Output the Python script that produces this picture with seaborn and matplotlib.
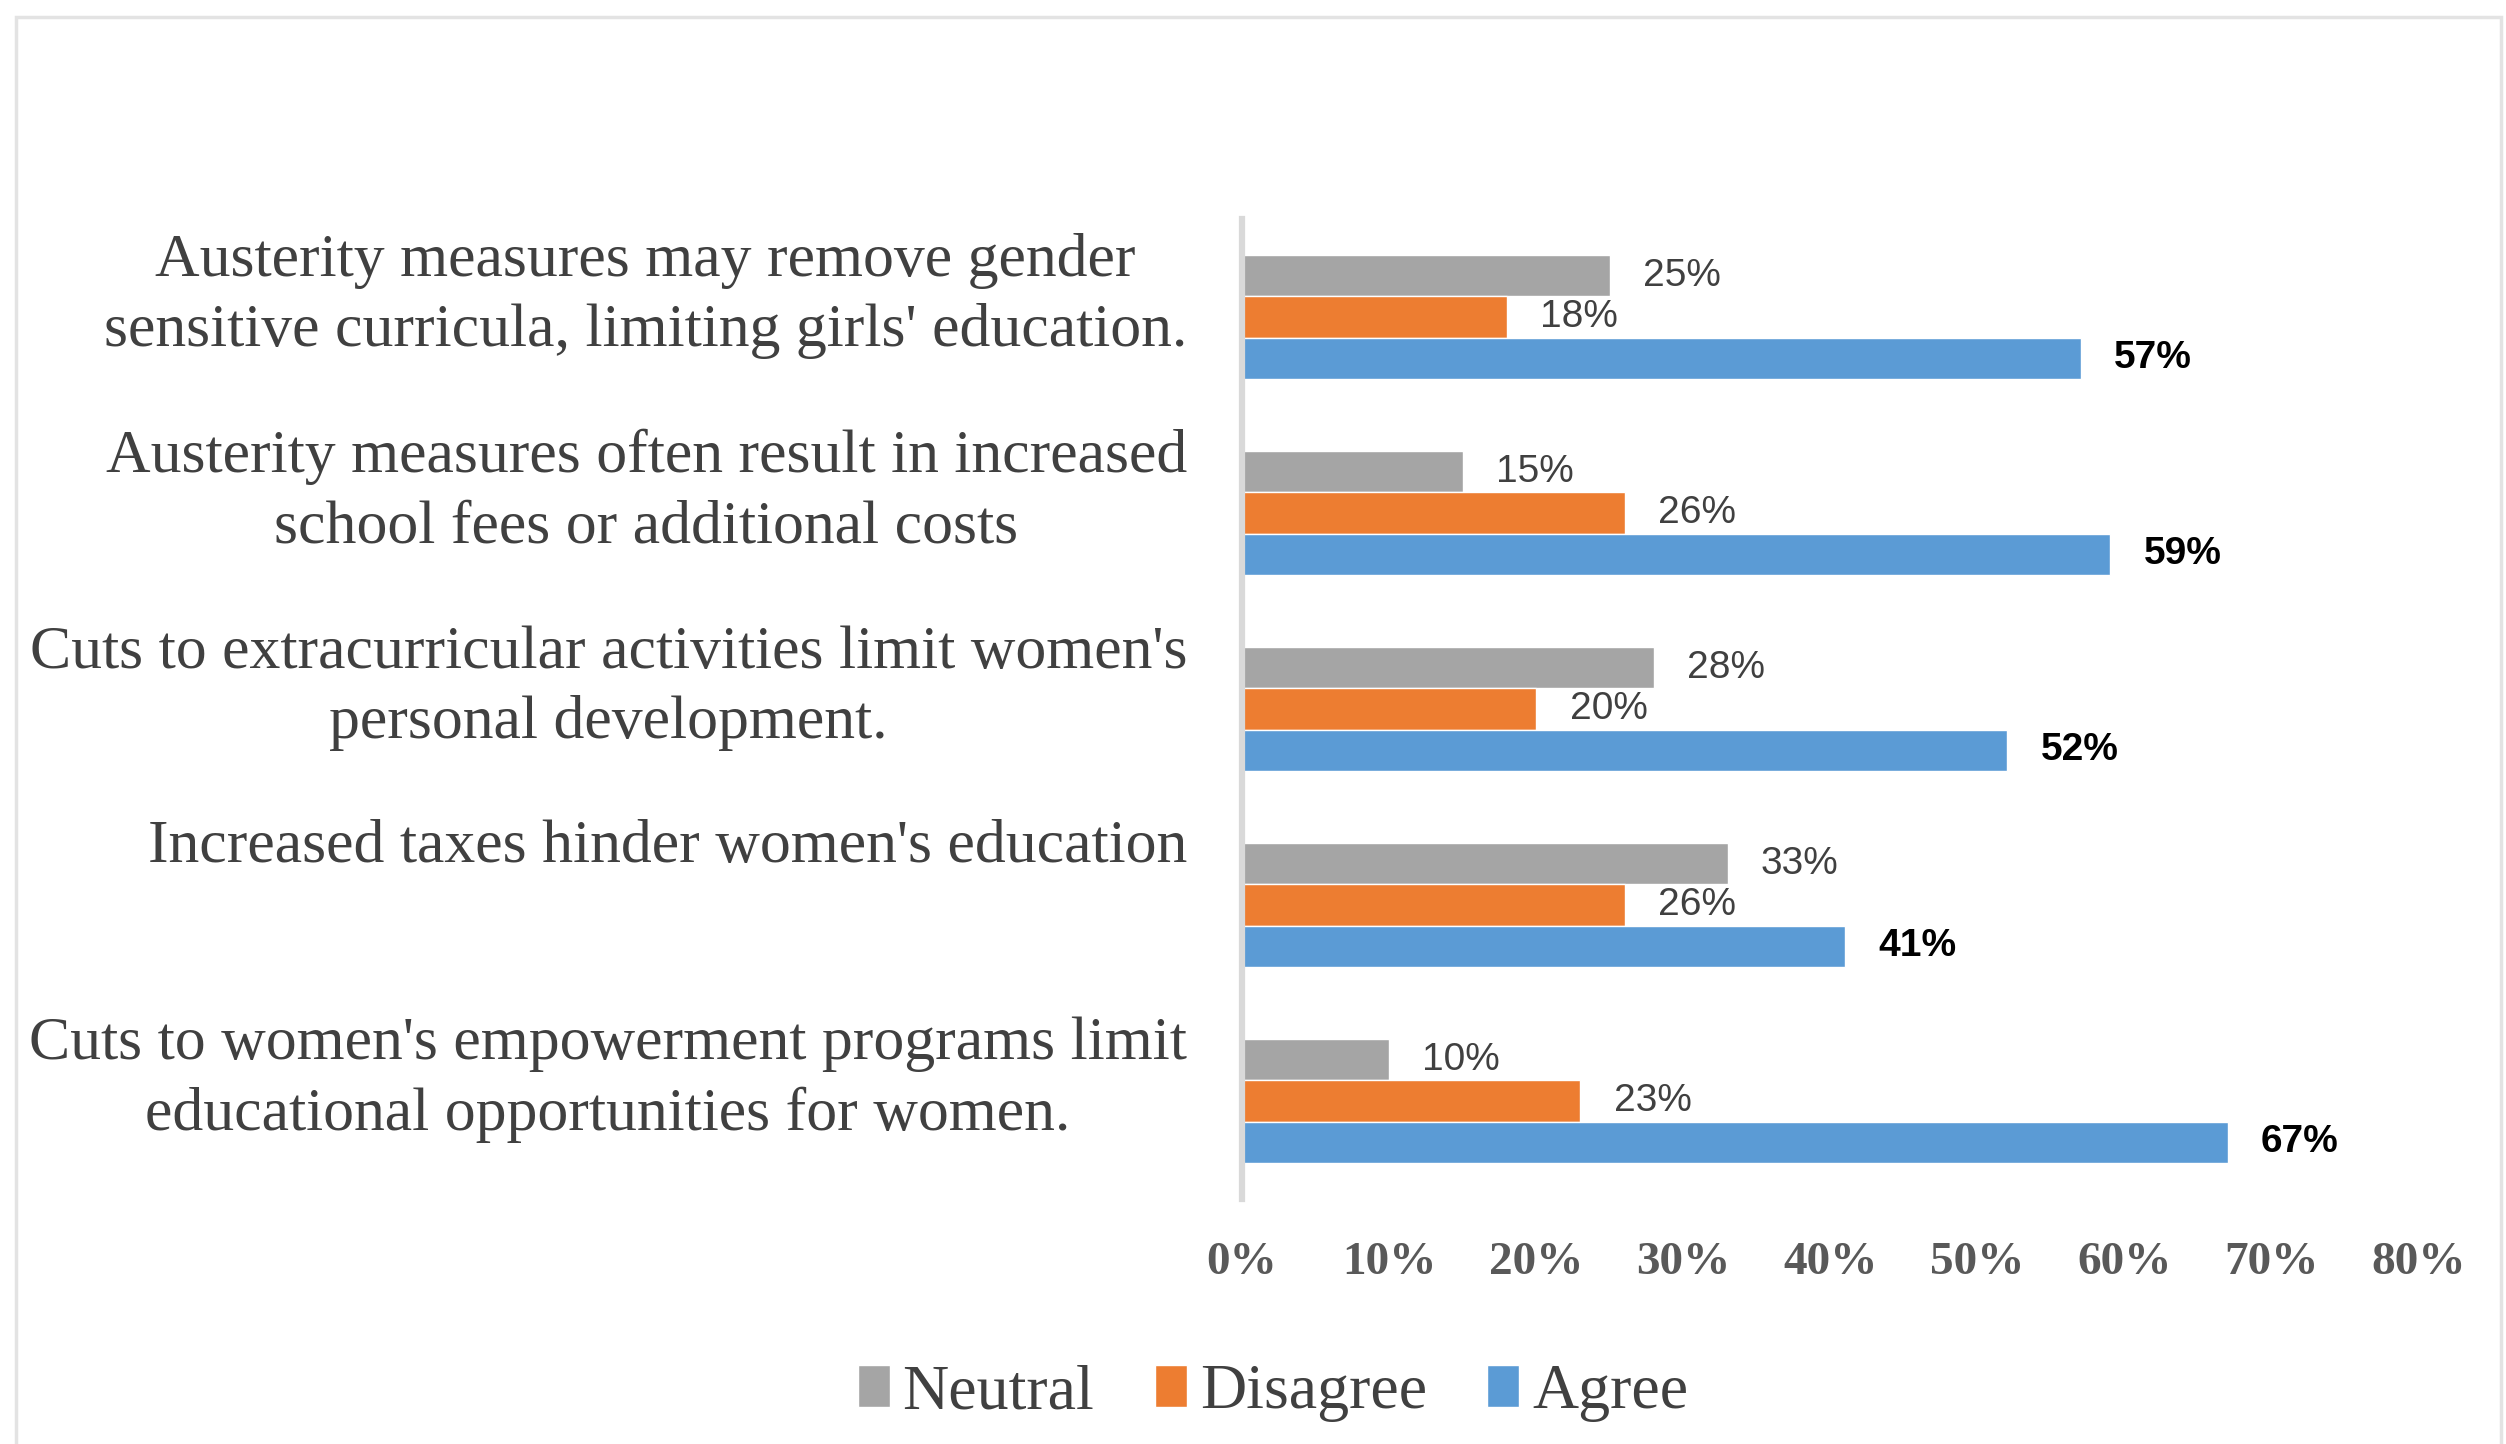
import matplotlib
matplotlib.use("Agg")
import matplotlib.pyplot as plt
import matplotlib.transforms as mtransforms
from matplotlib.patches import Rectangle
from matplotlib.ticker import FuncFormatter
import pandas as pd
import seaborn as sns

# Survey statements (top to bottom) and response shares in percent
statements = [
    "Austerity measures may remove gender\nsensitive curricula, limiting girls' education.",
    "Austerity measures often result in increased\nschool fees or additional costs",
    "Cuts to extracurricular activities limit women's\npersonal development.",
    "Increased taxes hinder women's education",
    "Cuts to women's empowerment programs limit\neducational opportunities for women.",
]
responses = ["Neutral", "Disagree", "Agree"]
neutral = [25, 15, 28, 33, 10]
disagree = [18, 26, 20, 26, 23]
agree = [57, 59, 52, 41, 67]
x_ticks = [0, 10, 20, 30, 40, 50, 60, 70, 80]

colors = ["#A5A5A5", "#ED7D31", "#5B9BD5"]

sns.set_theme(style="white")
plt.rcParams["font.family"] = ["Liberation Serif", "DejaVu Serif"]

rows = []
for resp, vals in zip(responses, [neutral, disagree, agree]):
    for stmt, v in zip(statements, vals):
        rows.append({"statement": stmt, "response": resp, "share": v})
df = pd.DataFrame(rows)

fig = plt.figure(figsize=(25.06, 14.44), dpi=100)
ax = fig.add_axes([0.4956, 0.1697, 0.9653 - 0.4956, 0.8483 - 0.1697])

sns.barplot(
    data=df, y="statement", x="share", hue="response",
    order=statements, hue_order=responses, palette=colors,
    orient="h", width=0.63, saturation=1, errorbar=None, ax=ax,
)

# value labels at the end of each bar
label_styles = {
    "Neutral": dict(color="#404040", fontweight="normal"),
    "Disagree": dict(color="#404040", fontweight="normal"),
    "Agree": dict(color="#000000", fontweight="bold"),
}
for container, resp in zip(ax.containers, responses):
    ax.bar_label(
        container,
        labels=[f"{v:.0f}%" for v in container.datavalues],
        padding=24, fontsize=28, family=["Liberation Sans", "DejaVu Sans"],
        **label_styles[resp],
    )

# category labels: right-aligned blocks, lines centred, first line hung
# at a fixed height above the group centre
line_step = 0.72  # inches between text lines
for i, stmt in enumerate(statements):
    n_lines = stmt.count("\n") + 1
    shift = 0.43 - (n_lines - 1) * line_step
    trans = ax.get_yaxis_transform() + mtransforms.ScaledTranslation(
        0, shift, fig.dpi_scale_trans)
    ax.text(-0.0467, i, stmt, transform=trans, ha="right", va="baseline",
            multialignment="center", fontsize=44.5, linespacing=1.33,
            color="#404040")

ax.set_xlim(0, 80)
ax.set_xticks(x_ticks)
ax.xaxis.set_major_formatter(FuncFormatter(lambda v, _: f"{v:.0f}%"))
ax.set_yticks(range(len(statements)))
ax.set_yticklabels([])
ax.tick_params(axis="x", length=0, pad=31, labelsize=34, labelcolor="#595959")
ax.tick_params(axis="y", length=0)
for lbl in ax.get_xticklabels():
    lbl.set_fontweight("bold")
ax.set_xlabel("")
ax.set_ylabel("")

for side in ["top", "right", "bottom"]:
    ax.spines[side].set_visible(False)
ax.spines["left"].set_color("#D9D9D9")
ax.spines["left"].set_linewidth(4.5)

handles, labels = ax.get_legend_handles_labels()
ax.get_legend().remove()
fig.legend(
    handles, labels, loc="center", bbox_to_anchor=(0.508, 0.035), ncol=3,
    frameon=False, fontsize=46, handlelength=0.5, handleheight=0.63,
    handletextpad=0.2, columnspacing=0.95, labelcolor="#404040",
)

# chart-area frame
fig.patches.append(Rectangle((16 / 2506, -0.05), (2501 - 16) / 2506, 1.05 - 17 / 1444,
                             transform=fig.transFigure, fill=False,
                             edgecolor="#E3E3E3", linewidth=2.5))

fig.savefig("out.png", dpi=100)
